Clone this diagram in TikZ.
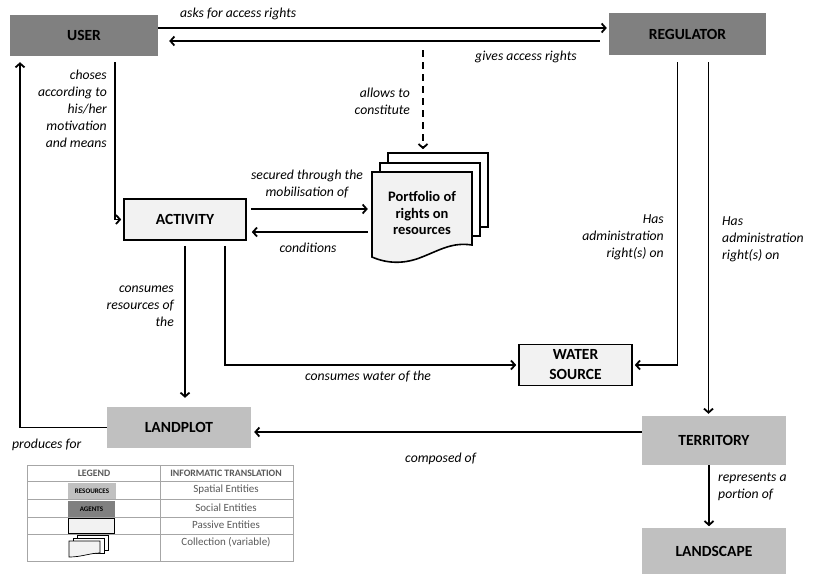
\documentclass[tikz,border=0pt]{standalone}
\usepackage{fontspec}
\setmainfont{Carlito}
\usepackage{tikz}
\usetikzlibrary{positioning,arrows.meta,calc}
\definecolor{agentgray}{HTML}{808080}
\definecolor{resgray}{HTML}{C0C0C0}
\definecolor{passivefill}{HTML}{F2F2F2}
\definecolor{rulegray}{HTML}{A6A6A6}
\definecolor{legtext}{HTML}{595959}

\begin{document}
\begin{tikzpicture}[
  x=1pt, y=-1pt,
  >={Straight Barb[length=4pt,width=9pt]},
  box/.style={
    shape=rectangle,
    inner sep=2pt,
    font=\fontsize{15.5}{20}\selectfont\bfseries,
    align=center,
  },
  agent/.style={
    box,
    fill=agentgray,
  },
  resource/.style={
    box,
    fill=resgray,
  },
  passive/.style={
    box,
    draw=black,
    fill=passivefill,
    line width=1.6pt,
  },
  sheet/.style={
    draw=black,
    line width=1.6pt,
    fill=white,
  },
  line/.style={
    line width=1.8pt,
    draw=black,
  },
  lbl/.style={
    font=\fontsize{13.7}{17}\selectfont\itshape,
    inner sep=0pt,
  },
  leg/.style={
    font=\fontsize{11}{12}\selectfont,
    text=legtext,
    inner sep=0pt,
  }]
  \useasboundingbox (0,0) rectangle (818,574);

  % agents
  \node[agent, minimum width=148pt, minimum height=41pt] (user) at (84,35.5) {USER};
  \node[agent, minimum width=157pt, minimum height=42pt] (regulator) at (687.5,34) {REGULATOR};

  % passive entities
  \node[passive, minimum width=122pt, minimum height=41pt] (activity) at (185,219.5) {ACTIVITY};
  \node[passive, minimum width=113pt, minimum height=41pt] (water) at (575.5,365) {WATER\\SOURCE};

  % portfolio (collection)
  \node[sheet, minimum width=100pt, minimum height=74pt] (sheet3) at (438,190) {};
  \node[sheet, minimum width=100pt, minimum height=73pt] (sheet2) at (430,199.5) {};
  \draw[sheet, fill=passivefill] (372,172) -- (472,172) -- (472,245)
    .. controls (452,242) and (440,250) .. (422,257)
    .. controls (405,264) and (388,264) .. (372,257) -- cycle;
  \node[box, font=\fontsize{14.5}{16.5}\selectfont\bfseries, minimum width=100pt, minimum height=86pt] (portfolio) at (422,213) {Portfolio of\\rights on\\resources};

  % resources
  \node[resource, minimum width=144pt, minimum height=41pt] (landplot) at (179,427.5) {LANDPLOT};
  \node[resource, minimum width=144pt, minimum height=49pt] (territory) at (714,440.5) {TERRITORY};
  \node[resource, minimum width=144pt, minimum height=46pt, below=63pt of territory] (landscape) {LANDSCAPE};

  % connectors
  \draw[line, ->, shorten >=2pt] ([yshift=7.5pt]user.east) -- ([yshift=7.5pt]user.east -| regulator.west);
  \draw[line, ->, shorten <=9pt, shorten >=11pt] ([yshift=-7pt]regulator.west) -- ([yshift=-7pt]regulator.west -| user.east);
  \coordinate (allow) at (423,50);
  \draw[line, dash pattern=on 7pt off 5pt, ->, shorten >=3pt] (allow) -- (allow |- sheet3.north);
  \draw[line, ->, shorten >=2pt] ([xshift=31pt, yshift=-6pt]user.south) |- (activity.west);
  \draw[line, ->] (landplot.west) -| ([xshift=-64pt, yshift=-6pt]user.south);
  \draw[line, ->, shorten <=4pt, shorten >=4pt] ([yshift=10.5pt]activity.east) -- ([yshift=10.5pt]activity.east -| portfolio.west);
  \draw[line, ->, shorten <=4pt, shorten >=5pt] ([yshift=-12.5pt]activity.east -| portfolio.west) -- ([yshift=-12.5pt]activity.east);
  \draw[line, ->, shorten >=9pt] ([yshift=-5pt]activity.south) -- (activity.south |- landplot.north);
  \draw[line, ->, shorten >=2pt] ([xshift=40pt, yshift=-5pt]activity.south) |- (water.west);
  \draw[line, ->, shorten >=2pt] ([xshift=-10pt, yshift=-7pt]regulator.south) |- (water.east);
  \draw[line, ->, shorten >=2pt] ([xshift=21pt, yshift=-7pt]regulator.south) -- ([xshift=21pt]regulator.south |- territory.north);
  \draw[line, ->, shorten >=3pt] ([yshift=8.5pt]territory.west) -- ([yshift=8.5pt]territory.west -| landplot.east);
  \draw[line, ->, shorten >=2pt] ([xshift=-5pt]territory.south) -- ([xshift=-5pt]territory.south |- landscape.north);

  % labels
  \node[lbl, anchor=west] (asks) at (180,14) {asks for access rights};
  \node[lbl, anchor=west] (gives) at (475,57) {gives access rights};
  \node[lbl, anchor=east, align=right] (allowlbl) at (410,101) {allows to\\constitute};
  \node[lbl, anchor=east, align=right] (choses) at (107,109) {choses\\according to\\his/her\\motivation\\and means};
  \node[lbl, align=center] (secured) at (307,184) {secured through the\\mobilisation of};
  \node[lbl] (conditions) at (308,248) {conditions};
  \node[lbl, anchor=east, align=right] (consres) at (174,306) {consumes\\resources of\\the};
  \node[lbl] (conswater) at (368,377) {consumes water of the};
  \node[lbl, anchor=east, align=right] (adminwater) at (664,237) {Has\\administration\\right(s) on};
  \node[lbl, anchor=west, align=left] (adminterr) at (722,239) {Has\\administration\\right(s) on};
  \node[lbl, anchor=west] (produces) at (12,445) {produces for};
  \node[lbl, anchor=west] (composed) at (405,459) {composed of};
  \node[lbl, anchor=west, align=left] (represents) at (718,487) {represents a\\portion of};

  % legend
  \draw[rulegray, line width=0.8pt] (27,465) rectangle (293,561);
  \draw[rulegray, line width=0.8pt] (160,465) -- (160,561);
  \foreach \y in {481,499,517,534}
    \draw[rulegray, line width=0.8pt] (27,\y) -- (293,\y);
  \node[leg, font=\fontsize{9.8}{11}\selectfont\bfseries] (leghead) at (94,473) {LEGEND};
  \node[leg, font=\fontsize{9.8}{11}\selectfont\bfseries] (transhead) at (226,473) {INFORMATIC TRANSLATION};
  \node[fill=resgray, minimum width=48pt, minimum height=16pt, inner sep=0pt, font=\fontsize{7}{8}\selectfont\bfseries] (legres) at (92,491) {RESOURCES};
  \node[fill=agentgray, minimum width=47pt, minimum height=16pt, inner sep=0pt, font=\fontsize{7}{8}\selectfont\bfseries] (legagent) at (91.5,509) {AGENTS};
  \node[draw=black, fill=passivefill, line width=0.8pt, minimum width=46pt, minimum height=15pt, inner sep=0pt] (legpassive) at (91,525.5) {};
  \draw[line width=0.7pt, fill=white] (77,535) rectangle (108,550);
  \draw[line width=0.7pt, fill=white] (73,538) rectangle (104,553);
  \draw[line width=0.7pt, fill=passivefill] (69,541) -- (100,541) -- (100,553)
    .. controls (90,553) and (82,557) .. (69,557) -- cycle;
  \node[leg] (spatial) at (226,490) {Spatial Entities};
  \node[leg] (social) at (226,508) {Social Entities};
  \node[leg] (passivetxt) at (226,525) {Passive Entities};
  \node[leg] (collection) at (226,542) {Collection (variable)};
\end{tikzpicture}
\end{document}
